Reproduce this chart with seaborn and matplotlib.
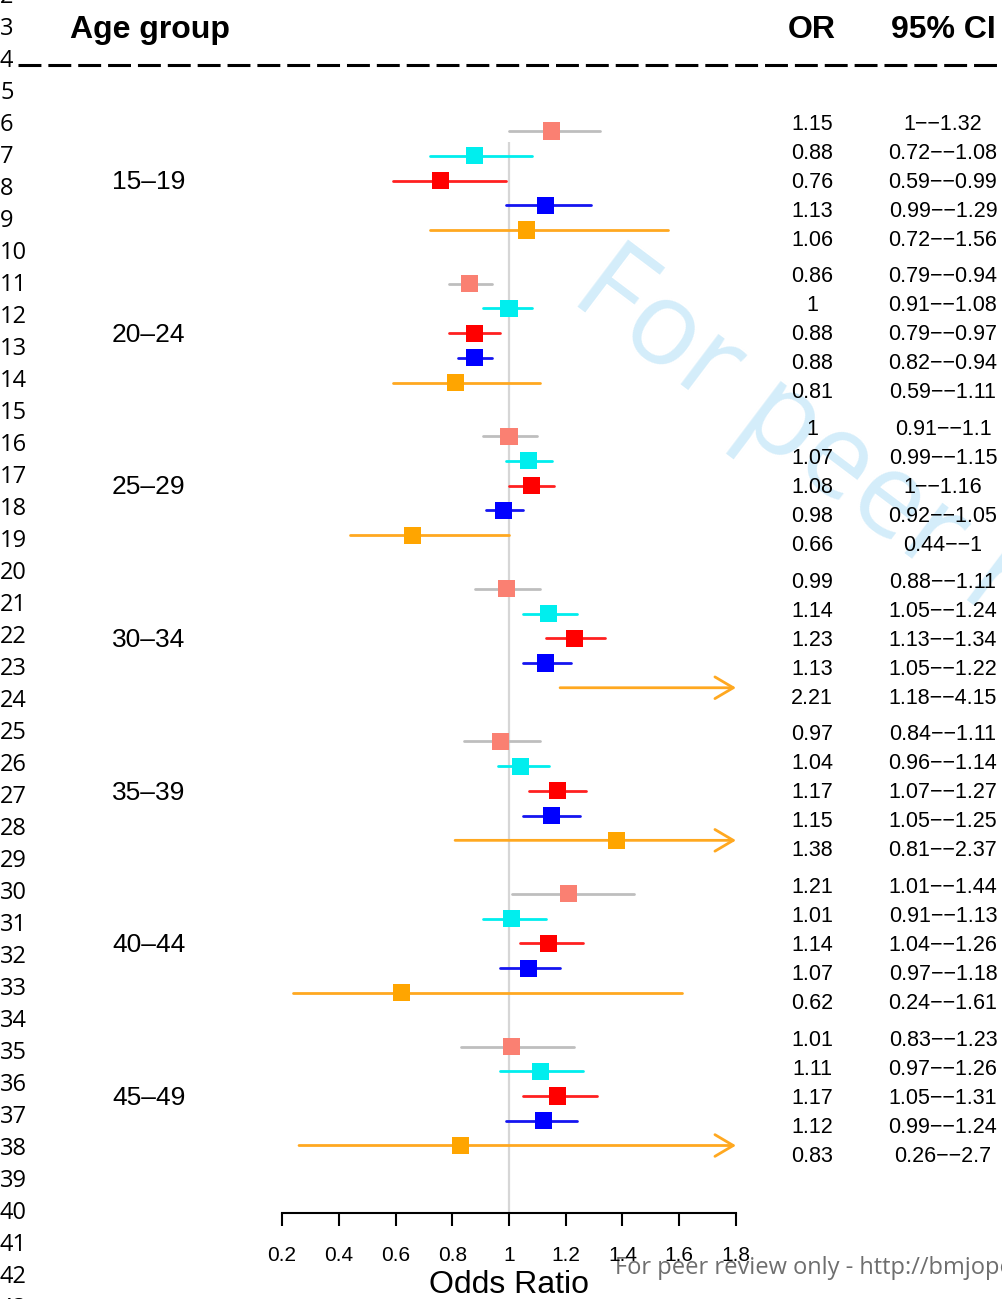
import matplotlib
matplotlib.use("Agg")
import matplotlib.pyplot as plt
import seaborn as sns
import pandas as pd
import numpy as np

# ---- data ----
age_groups = ["15–19", "20–24", "25–29", "30–34", "35–39", "40–44", "45–49"]
series = ["est1", "est2", "est3", "est4", "est5"]   # five estimates per age group

odds_ratio = [1.15, 0.88, 0.76, 1.13, 1.06,
              0.86, 1.00, 0.88, 0.88, 0.81,
              1.00, 1.07, 1.08, 0.98, 0.66,
              0.99, 1.14, 1.23, 1.13, 2.21,
              0.97, 1.04, 1.17, 1.15, 1.38,
              1.21, 1.01, 1.14, 1.07, 0.62,
              1.01, 1.11, 1.17, 1.12, 0.83]
ci_low = [1.00, 0.72, 0.59, 0.99, 0.72,
          0.79, 0.91, 0.79, 0.82, 0.59,
          0.91, 0.99, 1.00, 0.92, 0.44,
          0.88, 1.05, 1.13, 1.05, 1.18,
          0.84, 0.96, 1.07, 1.05, 0.81,
          1.01, 0.91, 1.04, 0.97, 0.24,
          0.83, 0.97, 1.05, 0.99, 0.26]
ci_high = [1.32, 1.08, 0.99, 1.29, 1.56,
           0.94, 1.08, 0.97, 0.94, 1.11,
           1.10, 1.15, 1.16, 1.05, 1.00,
           1.11, 1.24, 1.34, 1.22, 4.15,
           1.11, 1.14, 1.27, 1.25, 2.37,
           1.44, 1.13, 1.26, 1.18, 1.61,
           1.23, 1.26, 1.31, 1.24, 2.70]
x_ticks = [0.2, 0.4, 0.6, 0.8, 1.0, 1.2, 1.4, 1.6, 1.8]

marker_colors = ["#FA8072", "#00EEEE", "#FF0000", "#0000FF", "#FFA500"]
line_colors = ["#BEBEBE", "#00EEEE", "#FF2020", "#1515F0", "#FFA820"]

n_ser = len(series)
df = pd.DataFrame({
    "group": np.repeat(age_groups, n_ser),
    "series": series * len(age_groups),
    "odds": odds_ratio, "lo": ci_low, "hi": ci_high,
})
gi = np.repeat(np.arange(len(age_groups)), n_ser)
si = np.tile(np.arange(n_ser), len(age_groups))
df["row"] = gi * 6.165 + si

sns.set_theme(style="white", rc={"text.color": "black", "axes.labelcolor": "black",
                                 "xtick.color": "black", "axes.edgecolor": "black"})
plt.rcParams["font.family"] = ["Liberation Sans", "DejaVu Sans"]
plt.rcParams["lines.scale_dashes"] = False

W, H = 1003, 1299
fig = plt.figure(figsize=(W / 100, H / 100), dpi=100)

# overlay in pixel coords for page furniture and text columns
ov = fig.add_axes([0, 0, 1, 1], zorder=0)
ov.set_xlim(0, W)
ov.set_ylim(H, 0)
ov.axis("off")

# forest axes: 0.2 -> px 282, 1.8 -> px 736, axis line at px 1213
x0, x1, ytop, ybot = 282, 736, 100, 1213
ax = fig.add_axes([x0 / W, (H - ybot) / H, (x1 - x0) / W, (ybot - ytop) / H], zorder=2)
ax.set_facecolor("none")
row_px = 24.75
ax.set_xlim(0.2, 1.8)
ax.set_ylim((ybot - 131) / row_px, (ytop - 131) / row_px)

# watermark
ov.text(568, 300, "For peer review only", fontsize=84, family="Open Sans",
        color="#d4edfa", rotation=-37, rotation_mode="anchor",
        ha="left", va="baseline", zorder=0)

# reference line at OR = 1
ax.vlines(1.0, 0.45, (ybot - 131) / row_px, color="#d6d6d6", lw=1.6, zorder=1)

# confidence intervals
for r, c in zip(df.itertuples(), line_colors * len(age_groups)):
    if r.hi > 1.8:
        ax.annotate("", xy=(1.8, r.row), xytext=(max(r.lo, 0.2), r.row),
                    arrowprops=dict(arrowstyle="->,head_length=1.1,head_width=0.65",
                                    color=c, lw=2.0, shrinkA=0, shrinkB=0),
                    annotation_clip=False, zorder=2)
    else:
        ax.plot([r.lo, r.hi], [r.row, r.row], color=c, lw=2.0,
                solid_capstyle="round", zorder=2)

sns.scatterplot(data=df, x="odds", y="row", hue="series", palette=marker_colors,
                marker="s", s=150, linewidth=0, legend=False, ax=ax, zorder=3)

sns.despine(ax=ax, left=True)
ax.spines["bottom"].set_linewidth(1.5)
ax.set_yticks([])
ax.set_ylabel("")
ax.set_xticks(x_ticks)
ax.set_xticklabels(["{:g}".format(t) for t in x_ticks])
ax.tick_params(axis="x", bottom=True, length=9.5, width=1.5, pad=14,
               labelsize=15)
ax.set_xlabel("Odds Ratio", fontsize=23, labelpad=4)

# header
ov.text(70, 30, "Age group", fontsize=23, fontweight="bold", ha="left", va="center")
ov.text(812, 30, "OR", fontsize=23, fontweight="bold", ha="center", va="center")
ov.text(943, 30, "95% CI", fontsize=23, fontweight="bold", ha="center", va="center")
ov.plot([18, W], [65, 65], color="black", lw=2.2, dashes=(16.5, 5))

# text columns
for k, r in enumerate(df.itertuples()):
    g, j = divmod(k, n_ser)
    ty = 124 + g * 152.67 + j * 29
    ov.text(812, ty, "{:g}".format(r.odds), fontsize=15.5, ha="center", va="center")
    ov.text(943, ty, "{:g}\u2212\u2212{:g}".format(r.lo, r.hi),
            fontsize=15.5, ha="center", va="center")
for g, name in enumerate(age_groups):
    ov.text(112, 124 + g * 152.67 + 2 * 29, name, fontsize=19, ha="left", va="center")

# page line numbers and footer
for n in range(2, 44):
    ov.text(0, 29 + (n - 3) * 32, str(n), fontsize=17, family="Open Sans",
            ha="left", va="center")
ov.text(615, 1274, "For peer review only - http://bmjopen.bmj.com/site/about/guidelines.xhtml",
        fontsize=17, family="Open Sans", color="#6e6e6e", ha="left", va="baseline",
        zorder=5)

fig.savefig("out.png", dpi=100)
